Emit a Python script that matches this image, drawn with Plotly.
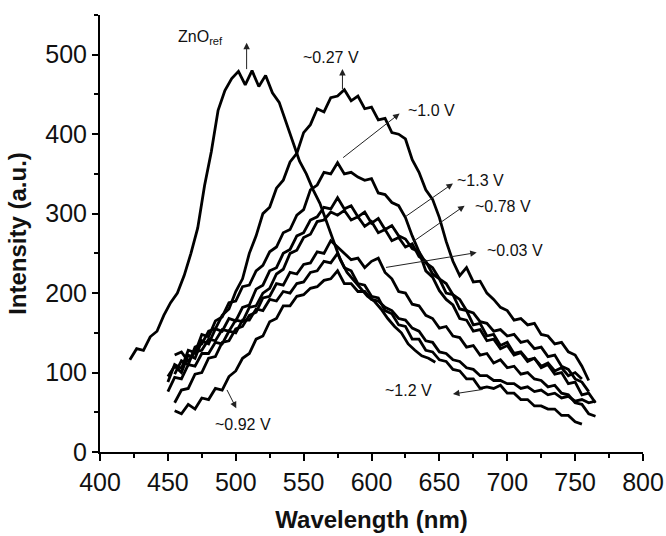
import plotly.graph_objects as go

STEP = 5  # nm between samples

# ---- data (intensity, a.u.) ----
zno_start = 422
zno_ref = [116, 130, 128, 145, 152, 172, 188, 200, 222, 250, 282, 335, 378, 430, 455, 470,
           479, 462, 480, 460, 474, 452, 440, 416, 390, 366, 350, 330, 313, 290, 265, 242,
           226, 216, 206, 196, 190, 180, 168, 158, 150, 136, 128, 121, 118, 113]

v027_start = 455
v027 = [98, 115, 110, 132, 136, 152, 155, 172, 180, 202, 218, 250, 272, 300, 308, 332,
        342, 365, 376, 402, 412, 432, 428, 446, 448, 456, 442, 448, 432, 434, 418, 420,
        402, 400, 394, 368, 352, 330, 318, 295, 265, 240, 222, 232, 214, 215, 200, 192,
        182, 178, 166, 168, 160, 162, 148, 146, 136, 138, 126, 122, 108, 90]

v10_start = 450
v10 = [88, 110, 105, 128, 125, 148, 145, 165, 170, 188, 190, 208, 210, 228, 235, 252,
       258, 276, 280, 298, 305, 330, 336, 352, 350, 364, 350, 352, 346, 342, 344, 326,
       324, 314, 310, 295, 272, 252, 228, 220, 203, 192, 185, 168, 166, 152, 154, 140,
       142, 130, 134, 122, 125, 114, 118, 108, 112, 102, 106, 96, 100, 92]

v13_start = 450
v13 = [95, 108, 100, 122, 118, 140, 136, 155, 152, 168, 165, 182, 185, 205, 210, 228,
       232, 250, 255, 272, 276, 292, 296, 308, 306, 320, 306, 310, 296, 302, 288, 294,
       280, 285, 272, 268, 256, 252, 238, 232, 218, 212, 198, 192, 178, 175, 164, 162,
       152, 154, 146, 148, 138, 140, 130, 132, 120, 122, 108, 104, 92, 88, 76]

v078_start = 455
v078 = [122, 126, 114, 126, 128, 142, 140, 154, 152, 166, 164, 182, 184, 200, 206, 224,
        230, 250, 254, 270, 274, 290, 292, 302, 298, 304, 292, 296, 284, 290, 276, 280,
        266, 270, 258, 262, 246, 240, 224, 218, 200, 198, 180, 178, 160, 162, 146, 148,
        134, 138, 124, 126, 116, 118, 106, 110, 98, 100, 86, 88, 72, 74, 62]

v003_start = 455
v003 = [62, 78, 80, 98, 100, 118, 120, 138, 140, 155, 158, 172, 176, 194, 196, 212,
        210, 226, 224, 236, 238, 252, 250, 266, 258, 250, 242, 244, 232, 240, 244, 226,
        218, 202, 200, 186, 184, 172, 168, 156, 158, 146, 144, 132, 134, 122, 124, 112,
        116, 106, 108, 98, 100, 92, 90, 82, 84, 74, 72, 62, 60, 48, 45]

v12_start = 450
v12 = [76, 94, 92, 110, 108, 124, 124, 138, 136, 152, 150, 166, 166, 180, 178, 192,
       190, 202, 200, 212, 214, 226, 228, 240, 238, 250, 232, 228, 212, 210, 196, 194,
       178, 174, 160, 158, 142, 142, 128, 126, 116, 114, 104, 102, 92, 92, 80, 82,
       80, 84, 74, 74, 66, 66, 58, 58, 54, 54, 46, 46, 38, 35]

v092_start = 455
v092 = [52, 48, 60, 54, 68, 66, 80, 78, 95, 102, 118, 124, 142, 146, 164, 168,
        184, 184, 196, 198, 206, 208, 216, 218, 228, 212, 212, 202, 202, 192, 190, 182,
        178, 168, 166, 156, 152, 140, 138, 126, 124, 116, 114, 106, 104, 96, 96, 90,
        90, 86, 86, 80, 82, 76, 78, 72, 74, 68, 70, 64, 66, 62, 64]

series = [
    (zno_start, zno_ref), (v027_start, v027), (v10_start, v10), (v13_start, v13),
    (v078_start, v078), (v003_start, v003), (v12_start, v12), (v092_start, v092),
]

# annotation labels: (text, text_x, text_y, tail_x, tail_y, head_x, head_y)
labels = [
    ("ZnO<sub>ref</sub>", 474, 522, 508, 480, 508, 515),
    ("~0.27 V", 570.5, 496, 578.6, 455, 578.6, 482),
    ("~1.0 V", 644, 430, 578, 369, 620.7, 426),
    ("~1.3 V", 680, 342, 624, 295, 660, 338),
    ("~0.78 V", 697, 309, 630, 264, 668.6, 310),
    ("~0.03 V", 705.5, 254, 609.6, 232, 677.5, 251),
    ("~1.2 V", 627, 78, 683, 79, 660, 73),
    ("~0.92 V", 505, 34, 493, 80, 500.4, 55),
]

FONT = "Liberation Sans, Arial, sans-serif"

fig = go.Figure()
for start, vals in series:
    xs = [start + STEP * i for i in range(len(vals))]
    fig.add_trace(go.Scatter(x=xs, y=vals, mode="lines",
                             line=dict(color="black", width=2.8),
                             showlegend=False, hoverinfo="skip"))

for text, tx, ty, ax_, ay_, hx, hy in labels:
    fig.add_annotation(x=hx, y=hy, ax=ax_, ay=ay_, xref="x", yref="y",
                       axref="x", ayref="y", text="", showarrow=True,
                       arrowhead=2, arrowsize=1.3, arrowwidth=1, arrowcolor="#222")
    fig.add_annotation(x=tx, y=ty, xref="x", yref="y", text=text, showarrow=False,
                       font=dict(family=FONT, size=16, color="#111"),
                       xanchor="center", yanchor="middle")

fig.update_layout(
    width=666, height=536,
    margin=dict(l=100, r=23, t=15, b=84),
    paper_bgcolor="white", plot_bgcolor="white",
    font=dict(family=FONT, color="black"),
)
fig.update_xaxes(
    range=[400, 800], tick0=400, dtick=50, showgrid=False, zeroline=False,
    showline=True, linecolor="black", linewidth=2,
    ticks="outside", ticklen=7, tickwidth=2, tickcolor="black",
    minor=dict(dtick=25, ticks="outside", ticklen=4, tickwidth=2, tickcolor="black", showgrid=False),
    tickfont=dict(family=FONT, size=25, color="#111"),
    title=dict(text="<b>Wavelength (nm)</b>", font=dict(family=FONT, size=24, color="#111"), standoff=16),
    automargin=False,
)
fig.update_yaxes(
    range=[0, 550], tick0=0, dtick=100, showgrid=False, zeroline=False,
    showline=True, linecolor="black", linewidth=2,
    ticks="outside", ticklen=6, tickwidth=2, tickcolor="black",
    minor=dict(dtick=50, ticks="outside", ticklen=4, tickwidth=2, tickcolor="black", showgrid=False),
    tickfont=dict(family=FONT, size=25, color="#111"),
    title=dict(text="<b>Intensity (a.u.)</b>", font=dict(family=FONT, size=24, color="#111"), standoff=12),
    automargin=False,
)

fig.write_html("out.html", config={"displayModeBar": False},
               post_script="document.body.style.margin='0';document.body.style.overflow='hidden';")
